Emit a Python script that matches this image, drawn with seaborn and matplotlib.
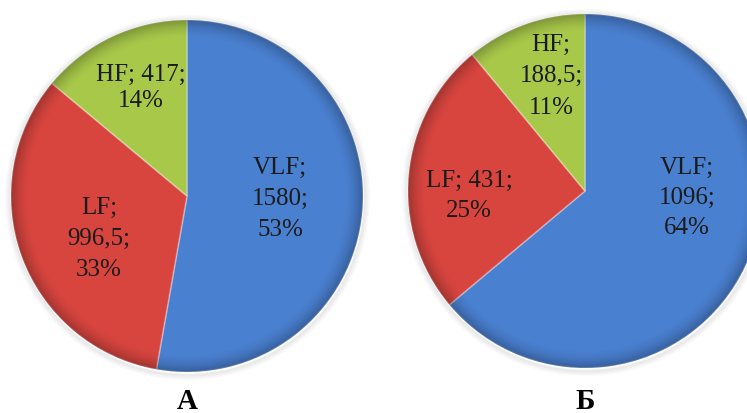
import numpy as np
import matplotlib
matplotlib.use("Agg")
import matplotlib.pyplot as plt
import seaborn as sns
from matplotlib.patches import Circle

# Spectral power of heart-rate variability bands
categories = ["VLF", "LF", "HF"]
values_a = [1580, 996.5, 417]
values_b = [1096, 431, 188.5]
panel_titles = ["А", "Б"]
band_colors = ["#4A80D0", "#D8453F", "#A8C84A"]

sns.set_theme(style="white")
plt.rcParams["font.family"] = ["Liberation Serif", "DejaVu Serif"]
palette = sns.color_palette(band_colors)

W, H = 747, 414
fig = plt.figure(figsize=(W / 100, H / 100), dpi=100)
ax = fig.add_axes([0, 0, 1, 1])


def fmt_value(v):
    return f"{v:g}".replace(".", ",")


# layout in pixel units (y measured from the top edge)
panels = [
    dict(values=values_a, title=panel_titles[0], cx=187, cy=197, r=176,
         label_xy=[(280, 199), (99, 239), (141, 88)],
         label_lines=[[0, 1, 2], [0, 1, 2], [0, 0, 1]],
         spacing=[31, 31, 26]),
    dict(values=values_b, title=panel_titles[1], cx=585, cy=192, r=177,
         label_xy=[(687, 198), (469, 196), (551, 76)],
         label_lines=[[0, 1, 2], [0, 0, 1], [0, 1, 2]],
         spacing=[30, 30, 31.5]),
]

for p in panels:
    cx, cy, R = p["cx"], H - p["cy"], p["r"]

    # soft shadow around the rim
    for k in range(1, 7):
        ax.add_patch(Circle((cx + 0.5, cy - 1.5), R + k, facecolor="none",
                            edgecolor="#555555", linewidth=1.2,
                            alpha=0.10 * (1 - k / 7), zorder=1))

    wedges, _ = ax.pie(p["values"], colors=palette, startangle=90,
                       counterclock=False, center=(cx, cy), radius=R,
                       wedgeprops=dict(edgecolor=(1, 1, 1, 0.3), linewidth=1.2))
    for w in wedges:
        w.set_zorder(2)

    # darker bevel towards the outer rim
    n = 400
    xs = np.linspace(-1, 1, n)
    X, Y = np.meshgrid(xs, xs)
    rr = np.sqrt(X ** 2 + Y ** 2)
    shade = np.zeros((n, n, 4))
    shade[..., 3] = 0.25 * np.clip((rr - 0.9) / 0.1, 0, 1) ** 1.6
    im = ax.imshow(shade, extent=(cx - R, cx + R, cy - R, cy + R),
                   origin="lower", zorder=3, interpolation="bilinear")
    clip = Circle((cx, cy), R, transform=ax.transData)
    im.set_clip_path(clip)

    total = sum(p["values"])
    for i, cat in enumerate(categories):
        v = p["values"][i]
        parts = [f"{cat};", f"{fmt_value(v)};", f"{round(100 * v / total)}%"]
        groups = p["label_lines"][i]
        lines = []
        for g in sorted(set(groups)):
            lines.append(" ".join(parts[j] for j in range(3) if groups[j] == g))
        lx, ly = p["label_xy"][i]
        sp = p["spacing"][i]
        m = len(lines)
        for j, line in enumerate(lines):
            yy = ly + (j - (m - 1) / 2) * sp
            ax.text(lx, H - yy, line, ha="center", va="center", fontsize=18,
                    color="#1b1b1b", zorder=5)

    ax.text(cx, 5, p["title"], ha="center", va="baseline", fontsize=21,
            fontweight="bold", color="black", zorder=5)

ax.set_xlim(0, W)
ax.set_ylim(0, H)
ax.set_aspect("equal")
ax.axis("off")

fig.savefig("out.png", dpi=100, facecolor="white")
